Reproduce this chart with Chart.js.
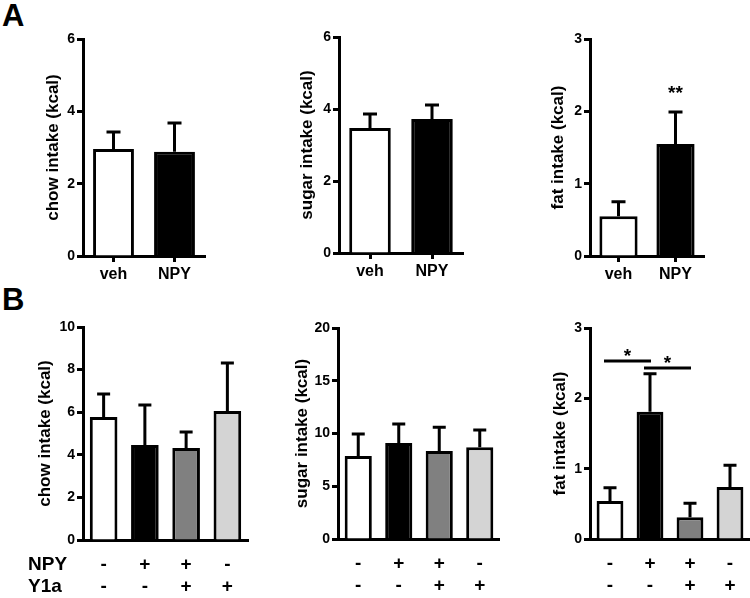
<!DOCTYPE html>
<html>
<head>
<meta charset="utf-8">
<script src="https://cdn.jsdelivr.net/npm/chart.js@4.4.0/dist/chart.umd.min.js"></script>
<style>
  body { margin: 0; background: #fff; width: 750px; height: 598px; position: relative; overflow: hidden;
         font-family: 'Liberation Sans', Arial, sans-serif; }
  canvas { position: absolute; }
  .panel-label { position: absolute; font-weight: bold; font-size: 31px; line-height: 31px; }
</style>
</head>
<body>
<div class="panel-label" style="left:2px;top:0px">A</div>
<div class="panel-label" style="left:2px;top:284px">B</div>

<canvas id="chowA" width="250" height="290" style="left:0;top:0"></canvas>
<canvas id="sugarA" width="250" height="290" style="left:250px;top:0"></canvas>
<canvas id="fatA" width="250" height="290" style="left:500px;top:0"></canvas>
<canvas id="chowB" width="250" height="308" style="left:0;top:290px"></canvas>
<canvas id="sugarB" width="250" height="308" style="left:250px;top:290px"></canvas>
<canvas id="fatB" width="250" height="308" style="left:500px;top:290px"></canvas>

<script>
// --- data ---
const groupsA = ['veh', 'NPY'];
const groupsB = [['-', '-'], ['+', '-'], ['+', '+'], ['-', '+']];
const rowLabelsB = ['NPY', 'Y1a'];

const chowA = [2.96, 2.88];
const chowAErr = [0.47, 0.80];
const sugarA = [3.47, 3.72];
const sugarAErr = [0.39, 0.39];
const fatA = [0.55, 1.55];
const fatAErr = [0.20, 0.44];

const chowB = [5.77, 4.46, 4.32, 6.06];
const chowBErr = [1.08, 1.88, 0.75, 2.25];
const sugarB = [7.87, 9.10, 8.34, 8.70];
const sugarBErr = [2.08, 1.80, 2.26, 1.63];
const fatB = [0.54, 1.81, 0.31, 0.74];
const fatBErr = [0.19, 0.54, 0.20, 0.31];

// significance marks
const fatAStars = ['', '**'];
const fatAStarLevel = 2.17;
const fatBPairs = [[0, 1], [1, 2]];
const fatBLevels = [2.53, 2.43];
const fatBPairStars = ['*', '*'];

const colorsA = ['#ffffff', '#000000'];
const colorsB = ['#ffffff', '#000000', '#808080', '#d4d4d4'];

Chart.defaults.font.family = "'Liberation Sans', Arial, sans-serif";
Chart.defaults.color = '#000';

// one-sided (upper) error bars
const errorBars = {
  id: 'errorBars',
  afterDatasetsDraw(chart, args, opts) {
    const ctx = chart.ctx;
    const y = chart.scales.y;
    const meta = chart.getDatasetMeta(0);
    ctx.save();
    ctx.strokeStyle = '#000';
    ctx.lineWidth = 3;
    meta.data.forEach((bar, i) => {
      const top = y.getPixelForValue(opts.values[i] + opts.errors[i]);
      ctx.beginPath();
      ctx.moveTo(bar.x, bar.y);
      ctx.lineTo(bar.x, top);
      ctx.moveTo(bar.x - opts.cap / 2, top);
      ctx.lineTo(bar.x + opts.cap / 2, top);
      ctx.stroke();
    });
    ctx.restore();
  }
};

// stars and comparison lines
const sigMarks = {
  id: 'sigMarks',
  afterDatasetsDraw(chart, args, opts) {
    const ctx = chart.ctx;
    const x = chart.scales.x, y = chart.scales.y;
    ctx.save();
    ctx.fillStyle = '#000';
    ctx.strokeStyle = '#000';
    ctx.lineWidth = 3;
    ctx.font = "bold 19px 'Liberation Sans', Arial, sans-serif";
    ctx.textAlign = 'center';
    ctx.textBaseline = 'alphabetic';
    (opts.stars || []).forEach((s, i) => {
      if (!s) return;
      ctx.fillText(s, x.getPixelForValue(i), y.getPixelForValue(opts.starLevel));
    });
    (opts.pairs || []).forEach((p, i) => {
      const x1 = x.getPixelForValue(p[0]) - 6;
      const x2 = x.getPixelForValue(p[1]) + 1;
      const yy = y.getPixelForValue(opts.levels[i]);
      ctx.beginPath();
      ctx.moveTo(x1, yy);
      ctx.lineTo(x2, yy);
      ctx.stroke();
      ctx.fillText(opts.pairStars[i], (x1 + x2) / 2, yy + 1);
    });
    ctx.restore();
  }
};

// row headings to the left of the +/- labels
const rowHeads = {
  id: 'rowHeads',
  afterDraw(chart, args, opts) {
    if (!opts.labels) return;
    const ctx = chart.ctx;
    ctx.save();
    ctx.fillStyle = '#000';
    ctx.font = "bold 19px 'Liberation Sans', Arial, sans-serif";
    ctx.textAlign = 'left';
    ctx.textBaseline = 'middle';
    opts.labels.forEach((l, i) => {
      ctx.fillText(l, opts.x, chart.chartArea.bottom + opts.first + i * opts.step);
    });
    ctx.restore();
  }
};

function buildChart(id, s) {
  return new Chart(document.getElementById(id), {
    type: 'bar',
    data: {
      labels: s.labels,
      datasets: [{
        data: s.values,
        backgroundColor: s.colors,
        borderColor: '#000',
        borderWidth: 3,
        barPercentage: 0.67,
        categoryPercentage: 1
      }]
    },
    options: {
      responsive: false,
      animation: false,
      devicePixelRatio: 1,
      layout: { padding: { left: 0, right: s.padRight, top: s.padTop, bottom: 0 } },
      plugins: {
        legend: { display: false },
        tooltip: { enabled: false },
        errorBars: { values: s.values, errors: s.errors, cap: s.cap },
        sigMarks: s.sig || {},
        rowHeads: s.rows || {}
      },
      scales: {
        x: {
          afterFit(scale) { scale.height = s.xHeight; },
          border: { display: true, width: 3, color: '#000' },
          grid: { display: s.xTicks, drawOnChartArea: false, drawTicks: s.xTicks, offset: false,
                  tickLength: 6, tickWidth: 3, color: '#000' },
          ticks: { font: s.xFont, padding: s.xPad, maxRotation: 0, autoSkip: false }
        },
        y: {
          min: 0,
          max: s.yMax,
          afterFit(scale) { scale.width = s.yWidth; },
          border: { display: true, width: 3, color: '#000' },
          grid: { display: true, drawOnChartArea: false, tickLength: 6, tickWidth: 3, color: '#000' },
          ticks: { stepSize: s.yStep, padding: 2, font: { size: 14, weight: 'bold' } },
          title: {
            display: true,
            text: s.title,
            font: { size: 17, weight: 'bold' },
            padding: { top: s.titleX - 10, bottom: 0 }
          }
        }
      }
    },
    plugins: [errorBars, sigMarks, rowHeads]
  });
}

const fontA = { size: 16, weight: 'bold' };
const fontB = { size: 19, weight: 'bold', lineHeight: '22px' };

buildChart('chowA', { labels: groupsA, values: chowA, errors: chowAErr, colors: colorsA, cap: 14,
  yMax: 6, yStep: 2, title: 'chow intake (kcal)', titleX: 53,
  yWidth: 83, padRight: 45, padTop: 39, xHeight: 34, xTicks: true, xFont: fontA, xPad: 3 });

buildChart('sugarA', { labels: groupsA, values: sugarA, errors: sugarAErr, colors: colorsA, cap: 14,
  yMax: 6, yStep: 2, title: 'sugar intake (kcal)', titleX: 57,
  yWidth: 89, padRight: 37, padTop: 37, xHeight: 37, xTicks: true, xFont: fontA, xPad: 3 });

buildChart('fatA', { labels: groupsA, values: fatA, errors: fatAErr, colors: colorsA, cap: 14,
  yMax: 3, yStep: 1, title: 'fat intake (kcal)', titleX: 58,
  yWidth: 90, padRight: 46, padTop: 39, xHeight: 34, xTicks: true, xFont: fontA, xPad: 3,
  sig: { stars: fatAStars, starLevel: fatAStarLevel } });

buildChart('chowB', { labels: groupsB, values: chowB, errors: chowBErr, colors: colorsB, cap: 13,
  yMax: 10, yStep: 2, title: 'chow intake (kcal)', titleX: 45,
  yWidth: 83, padRight: 2, padTop: 37, xHeight: 58, xTicks: false, xFont: fontB, xPad: 14,
  rows: { labels: rowLabelsB, x: 28, first: 25, step: 22 } });

buildChart('sugarB', { labels: groupsB, values: sugarB, errors: sugarBErr, colors: colorsB, cap: 13,
  yMax: 20, yStep: 5, title: 'sugar intake (kcal)', titleX: 52,
  yWidth: 88, padRight: 0, padTop: 38, xHeight: 59, xTicks: false, xFont: fontB, xPad: 14 });

buildChart('fatB', { labels: groupsB, values: fatB, errors: fatBErr, colors: colorsB, cap: 13,
  yMax: 3, yStep: 1, title: 'fat intake (kcal)', titleX: 60,
  yWidth: 90, padRight: 0, padTop: 38, xHeight: 59, xTicks: false, xFont: fontB, xPad: 14,
  sig: { pairs: fatBPairs, levels: fatBLevels, pairStars: fatBPairStars } });
</script>
</body>
</html>
